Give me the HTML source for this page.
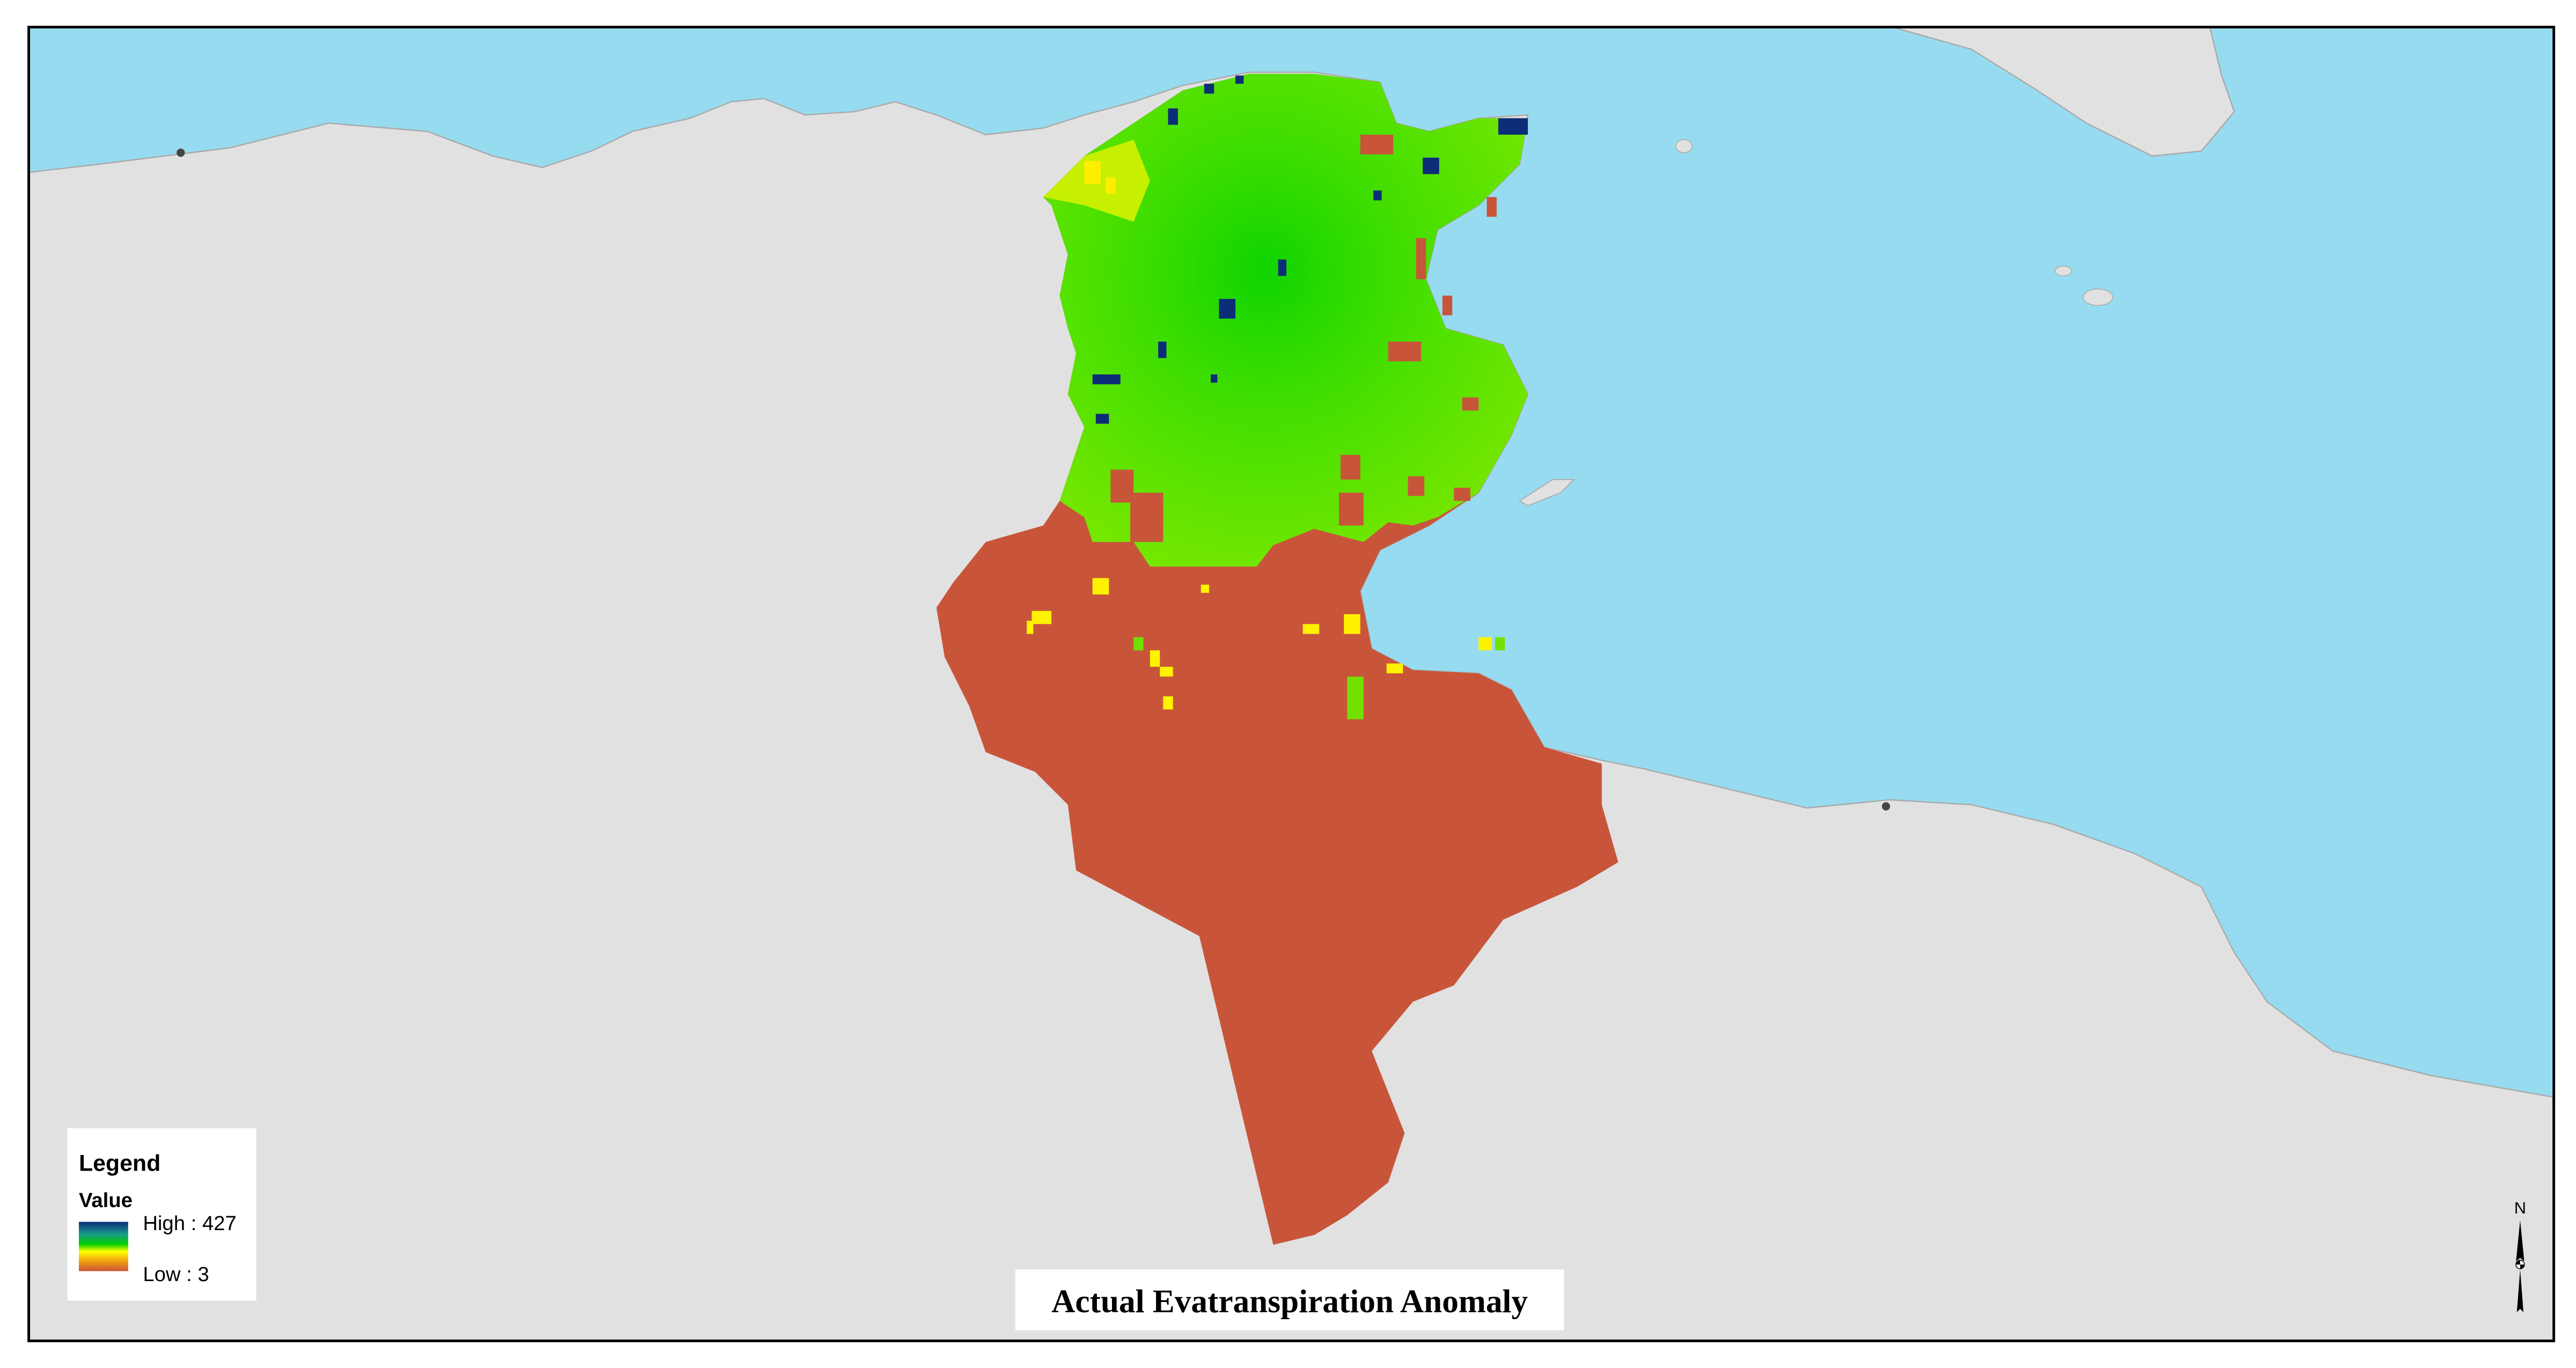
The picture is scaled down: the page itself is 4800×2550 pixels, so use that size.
<!DOCTYPE html>
<html><head><meta charset="utf-8"><style>
html,body{margin:0;padding:0;background:#fff;width:4800px;height:2550px;overflow:hidden}
svg{display:block}
</style></head><body>
<svg width="4800" height="2550" viewBox="0 0 1568 833" preserveAspectRatio="none" xmlns="http://www.w3.org/2000/svg">
<defs>
<radialGradient id="g" cx="770" cy="165" r="200" gradientUnits="userSpaceOnUse">
<stop offset="0" stop-color="#10d400"/>
<stop offset="0.4" stop-color="#40de00"/>
<stop offset="1" stop-color="#7ae800"/>
</radialGradient>
<clipPath id="frame"><rect x="17" y="16" width="1537" height="800"/></clipPath>
</defs>
<rect width="1568" height="833" fill="#fff"/>
<g clip-path="url(#frame)">
<rect x="17" y="16" width="1537" height="800" fill="#97dbf0"/>
<path d="M17,105 L60,100 L100,95 L140,90 L200,75 L260,80 L300,95 L330,102 L360,92 L385,80 L420,72 L445,62 L465,60 L490,70 L520,68 L545,62 L570,70 L600,82 L635,78 L660,70 L690,62 L720,52 L760,44 L800,44 L840,50 L850,75 L870,80 L900,72 L930,70 L925,100 L900,125 L875,140 L868,170 L880,200 L915,210 L930,240 L920,265 L900,300 L870,320 L840,335 L828,360 L835,395 L860,408 L900,410 L920,420 L940,455 L975,463 L1000,468 L1050,480 L1100,492 L1150,487 L1200,490 L1250,502 L1300,520 L1340,540 L1360,580 L1380,610 L1420,640 L1480,655 L1554,668 L1554,816 L17,816 Z" fill="#e1e1e1" stroke="#aaa" stroke-width="0.8"/>
<path d="M1150,16 L1200,30 L1240,55 L1270,75 L1310,95 L1340,92 L1360,68 L1352,45 L1345,16 Z" fill="#e1e1e1" stroke="#aaa" stroke-width="0.8"/>
<ellipse cx="1025" cy="89" rx="5" ry="4" fill="#e1e1e1" stroke="#aaa" stroke-width="0.5"/>
<ellipse cx="1256" cy="165" rx="5" ry="3" fill="#e1e1e1" stroke="#aaa" stroke-width="0.5"/>
<ellipse cx="1277" cy="181" rx="9" ry="5" fill="#e1e1e1" stroke="#aaa" stroke-width="0.5"/>
<path d="M925,305 L945,292 L958,292 L950,300 L930,308 Z" fill="#e1e1e1" stroke="#aaa" stroke-width="0.6"/>
<circle cx="110" cy="93" r="2.5" fill="#444"/>
<circle cx="1148" cy="491" r="2.5" fill="#444"/>
<path d="M635,120 L660,95 L690,75 L720,55 L760,45 L800,45 L840,50 L850,75 L870,80 L900,72 L930,72 L925,100 L900,125 L875,140 L868,170 L880,200 L915,210 L930,240 L920,265 L900,300 L870,320 L840,335 L828,360 L835,395 L860,408 L900,410 L920,420 L940,455 L975,465 L975,490 L985,525 L960,540 L915,560 L885,600 L860,610 L835,640 L855,690 L845,720 L820,740 L800,752 L775,758 L730,570 L655,530 L650,490 L630,470 L600,458 L590,430 L575,400 L570,370 L580,355 L600,330 L635,320 L645,305 L650,290 L660,260 L650,240 L655,215 L650,200 L645,180 L650,155 L640,125 Z" fill="#c8553a"/>
<path d="M635,120 L660,95 L690,75 L720,55 L760,45 L800,45 L840,50 L850,75 L870,80 L900,72 L930,72 L925,100 L900,125 L875,140 L868,170 L880,200 L915,210 L930,240 L920,265 L900,300 L875,315 L860,320 L845,318 L830,330 L800,322 L775,332 L765,345 L700,345 L690,330 L665,330 L660,315 L645,305 L650,290 L660,260 L650,240 L655,215 L650,200 L645,180 L650,155 L640,125 Z" fill="url(#g)"/>
<path d="M635,120 L660,95 L690,85 L700,110 L690,135 L660,125 Z" fill="#c6f000"/>
<rect x="660" y="98" width="10" height="14" fill="#ffee00"/>
<rect x="673" y="108" width="6" height="10" fill="#ffee00"/>
<g fill="#c8553a">
<rect x="828" y="82" width="20" height="12"/>
<rect x="676" y="286" width="14" height="20"/>
<rect x="688" y="300" width="20" height="30"/>
<rect x="845" y="208" width="20" height="12"/>
<rect x="890" y="242" width="10" height="8"/>
<rect x="862" y="145" width="6" height="25"/>
<rect x="816" y="277" width="12" height="15"/>
<rect x="857" y="290" width="10" height="12"/>
<rect x="815" y="300" width="15" height="20"/>
<rect x="878" y="180" width="6" height="12"/>
<rect x="885" y="297" width="10" height="8"/>
<rect x="905" y="120" width="6" height="12"/>
</g>
<g fill="#0c2d78">
<rect x="733" y="51" width="6" height="6"/><rect x="752" y="46" width="5" height="5"/>
<rect x="711" y="66" width="6" height="10"/><rect x="866" y="96" width="10" height="10"/>
<rect x="912" y="72" width="18" height="10"/><rect x="742" y="182" width="10" height="12"/>
<rect x="778" y="158" width="5" height="10"/><rect x="665" y="228" width="17" height="6"/>
<rect x="705" y="208" width="5" height="10"/><rect x="667" y="252" width="8" height="6"/>
<rect x="737" y="228" width="4" height="5"/><rect x="836" y="116" width="5" height="6"/>
</g>
<g fill="#fff200">
<rect x="665" y="352" width="10" height="10"/><rect x="731" y="356" width="5" height="5"/>
<rect x="628" y="372" width="12" height="8"/><rect x="625" y="378" width="4" height="8"/>
<rect x="793" y="380" width="10" height="6"/><rect x="818" y="374" width="10" height="12"/>
<rect x="700" y="396" width="6" height="10"/><rect x="706" y="406" width="8" height="6"/>
<rect x="708" y="424" width="6" height="8"/><rect x="844" y="404" width="10" height="6"/>
<rect x="900" y="388" width="8" height="8"/>
</g>
<g fill="#72e000">
<rect x="820" y="412" width="10" height="26"/><rect x="690" y="388" width="6" height="8"/>
<rect x="910" y="388" width="6" height="8"/>
</g>
</g>
<rect x="17.5" y="16.5" width="1537" height="800" fill="none" stroke="#000" stroke-width="1.6"/>
<rect x="41" y="687" width="115" height="105" fill="#fff"/>
<text x="48" y="713" font-family="Liberation Sans, sans-serif" font-weight="bold" font-size="14">Legend</text>
<text x="48" y="735" font-family="Liberation Sans, sans-serif" font-weight="bold" font-size="12.5">Value</text>
<defs><linearGradient id="lg" x1="0" y1="0" x2="0" y2="1">
<stop offset="0" stop-color="#0c2d78"/><stop offset="0.25" stop-color="#1a9a8a"/><stop offset="0.45" stop-color="#00d000"/><stop offset="0.6" stop-color="#ffff00"/><stop offset="0.8" stop-color="#f0a010"/><stop offset="1" stop-color="#c8553a"/></linearGradient></defs>
<rect x="48" y="744" width="30" height="30" fill="url(#lg)"/>
<text x="87" y="749" font-family="Liberation Sans, sans-serif" font-size="12.5">High : 427</text>
<text x="87" y="780" font-family="Liberation Sans, sans-serif" font-size="12.5">Low : 3</text>
<rect x="618" y="773" width="334" height="37" fill="#fff"/>
<text x="785" y="799" text-anchor="middle" font-family="Liberation Serif, serif" font-weight="bold" font-size="20">Actual Evatranspiration Anomaly</text>
<text x="1534" y="739" text-anchor="middle" font-family="Liberation Sans, sans-serif" font-size="10">N</text>
<path d="M1534,743 L1536.5,768 L1534,766 L1531.5,768 Z" fill="#000"/>
<circle cx="1534" cy="770" r="2.6" fill="#fff" stroke="#000" stroke-width="0.5"/>
<path d="M1534,770 L1531.4,770 A2.6,2.6 0 0 1 1534,767.4 Z" fill="#000"/>
<path d="M1534,770 L1536.6,770 A2.6,2.6 0 0 1 1534,772.6 Z" fill="#000"/>
<path d="M1534,773 L1536,799 L1534,797 L1532,799 Z" fill="#000"/>
</svg>
</body></html>
